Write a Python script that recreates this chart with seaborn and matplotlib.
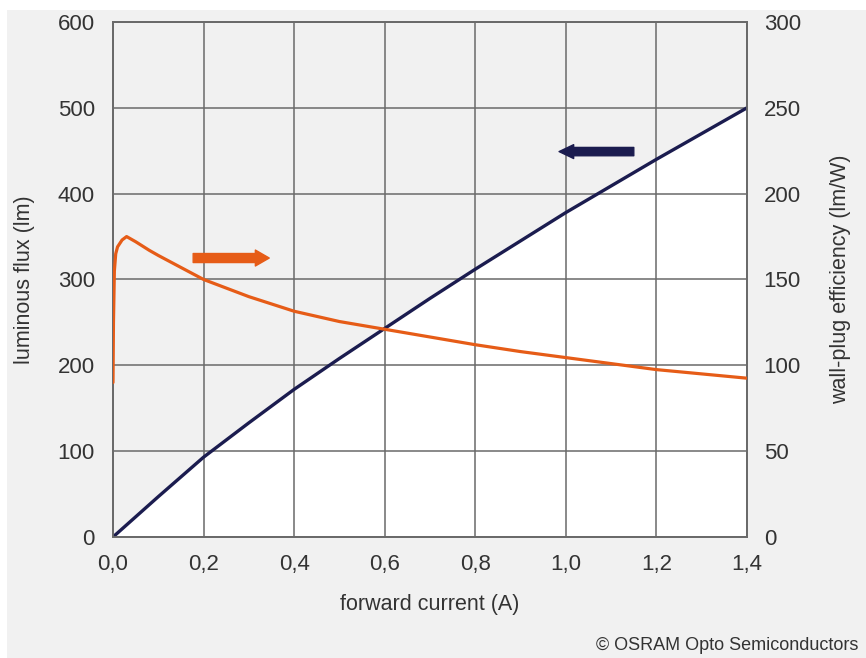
import matplotlib
matplotlib.use("Agg")
import matplotlib.pyplot as plt
import matplotlib.patches as mpatches
import seaborn as sns
import pandas as pd

# --- data ---
flux_current = [0.0, 0.1, 0.2, 0.3, 0.4, 0.5, 0.6, 0.7, 0.8, 0.9, 1.0, 1.1, 1.2, 1.3, 1.4]
flux_lm = [0, 47, 93, 133, 172, 208, 243, 278, 312, 345, 378, 409, 440, 470, 500]

eff_current = [0.0, 0.001, 0.003, 0.006, 0.01, 0.02, 0.03, 0.05, 0.08, 0.1, 0.15, 0.2,
               0.3, 0.4, 0.5, 0.6, 0.7, 0.8, 0.9, 1.0, 1.1, 1.2, 1.3, 1.4]
eff_lmw = [90, 125, 155, 165, 169, 173, 175, 172, 167, 164, 157, 150,
           140, 131.5, 125.5, 121, 116.5, 112, 108, 104.5, 101, 97.5, 95, 92.5]

x_ticks = [0.0, 0.2, 0.4, 0.6, 0.8, 1.0, 1.2, 1.4]
x_tick_labels = ["0,0", "0,2", "0,4", "0,6", "0,8", "1,0", "1,2", "1,4"]
left_ticks = [0, 100, 200, 300, 400, 500, 600]
right_ticks = [0, 50, 100, 150, 200, 250, 300]

NAVY = "#1b1c4f"
ORANGE = "#e65c17"
PANEL = "#f1f1f1"
GRID = "#6a6a6a"
TEXT = "#333333"

sns.set_style("white")
plt.rcParams["font.family"] = ["Liberation Sans", "DejaVu Sans"]

fig = plt.figure(figsize=(8.66, 6.58), dpi=100)
fig.patches.append(mpatches.Rectangle((7 / 866, 0), 1, 1 - 10 / 658, transform=fig.transFigure,
                                      facecolor=PANEL, edgecolor="none", zorder=-10))
ax = fig.add_axes([0.1305, 0.1839, 0.7321, 0.7827])
ax.set_facecolor("white")

flux_df = pd.DataFrame({"current": flux_current, "flux": flux_lm})
eff_df = pd.DataFrame({"current": eff_current, "eff": eff_lmw})

# gray area above the flux curve
ax.fill_between(flux_df["current"], flux_df["flux"], 600, color=PANEL, lw=0, zorder=0)

sns.lineplot(data=flux_df, x="current", y="flux", color=NAVY, lw=2.4, ax=ax, zorder=4)

ax.set_xlim(0, 1.4)
ax.set_ylim(0, 600)
ax.set_xticks(x_ticks)
ax.set_xticklabels(x_tick_labels)
ax.set_yticks(left_ticks)
ax.grid(True, color=GRID, lw=1.1, zorder=1)
ax.set_axisbelow(True)

ax2 = ax.twinx()
sns.lineplot(data=eff_df, x="current", y="eff", color=ORANGE, lw=2.3, ax=ax2, zorder=4)
ax2.set_ylim(0, 300)
ax2.set_yticks(right_ticks)
ax2.grid(False)

for a in (ax, ax2):
    for s in a.spines.values():
        s.set_color(GRID)
        s.set_linewidth(1.3)
    a.tick_params(length=0, labelsize=16, colors=TEXT)
ax.tick_params(axis="y", pad=13)
ax.tick_params(axis="x", pad=12)
ax2.tick_params(axis="y", pad=12)

ax.set_xlabel("forward current (A)", fontsize=15.5, color=TEXT)
ax.set_ylabel("luminous flux (lm)", fontsize=15.5, color=TEXT)
ax2.set_ylabel("wall-plug efficiency (lm/W)", fontsize=15.5, color=TEXT)
ax.xaxis.set_label_coords(0.5, -0.11)
ax.yaxis.set_label_coords(-0.123, 0.5)
ax2.yaxis.set_label_coords(1.131, 0.5)

# arrows pointing to the axis each curve belongs to
ax.annotate("", xy=(0.345, 325), xytext=(0.177, 325),
            arrowprops=dict(arrowstyle="simple,head_length=1.0,head_width=1.15,tail_width=0.65",
                            color=ORANGE, mutation_scale=10, shrinkA=0, shrinkB=0), zorder=5)
ax.annotate("", xy=(0.985, 449), xytext=(1.15, 449),
            arrowprops=dict(arrowstyle="simple,head_length=1.05,head_width=1.0,tail_width=0.6",
                            color=NAVY, mutation_scale=10, shrinkA=0, shrinkB=0), zorder=5)

fig.text(858 / 866, 1 - 645 / 658, "\u00a9 OSRAM Opto Semiconductors", ha="right", va="center",
         fontsize=13, color=TEXT)

fig.savefig("out.png", dpi=100)
